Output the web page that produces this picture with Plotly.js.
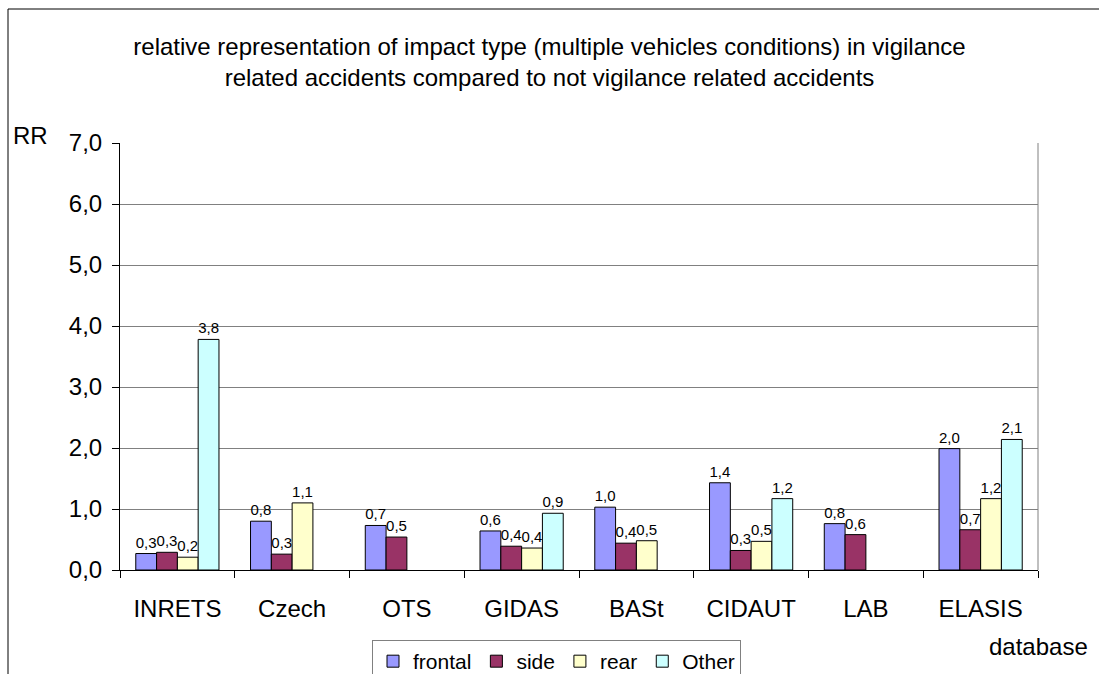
<!DOCTYPE html>
<html>
<head>
<meta charset="utf-8">
<script src="https://cdn.plot.ly/plotly-3.0.1.min.js"></script>
<style>
  body { margin: 0; background: #fff; }
  #chart { width: 1099px; height: 674px; }
</style>
</head>
<body>
<div id="chart"></div>
<script>
// databases on the x axis
const databases = ['INRETS', 'Czech', 'OTS', 'GIDAS', 'BASt', 'CIDAUT', 'LAB', 'ELASIS'];

// relative risk per impact type
const frontal = [0.27, 0.80, 0.73, 0.64, 1.03, 1.43, 0.76, 1.99];
const side    = [0.29, 0.26, 0.54, 0.39, 0.44, 0.32, 0.58, 0.66];
const rear    = [0.21, 1.10, null, 0.36, 0.48, 0.47, null, 1.17];
const other   = [3.78, null, null, 0.93, null, 1.17, null, 2.14];

const yTicks = [0, 1, 2, 3, 4, 5, 6, 7];

const FONT = 'Arial, "Liberation Sans", sans-serif';

function barTrace(name, values, color) {
    return {
        type: 'bar',
        name: name,
        x: databases,
        y: values,
        marker: { color: color, line: { color: '#000000', width: 1 } },
        texttemplate: '%{y:.1f}',
        textposition: 'outside',
        constraintext: 'none',
        cliponaxis: false,
        textfont: { family: FONT, size: 15, color: '#000000' },
        hoverinfo: 'x+y+name'
    };
}

function drawChart() {
    const traces = [
        barTrace('frontal', frontal, '#9999FF'),
        barTrace('side', side, '#993366'),
        barTrace('rear', rear, '#FFFFCC'),
        barTrace('Other', other, '#CCFFFF')
    ];

    const layout = {
        width: 1099,
        height: 674,
        autosize: false,
        separators: ',.',
        font: { family: FONT, color: '#000000' },
        paper_bgcolor: '#ffffff',
        plot_bgcolor: '#ffffff',
        margin: { l: 120, r: 61, t: 143, b: 104, pad: 0 },
        barmode: 'group',
        bargap: 0.275,
        bargroupgap: 0,
        title: {
            text: 'relative representation of impact type (multiple vehicles conditions) in vigilance<br>related accidents compared to not vigilance related accidents',
            font: { family: FONT, size: 24, color: '#000000' },
            x: 0.5, xref: 'container', xanchor: 'center',
            y: 0.919, yref: 'container', yanchor: 'top'
        },
        xaxis: {
            type: 'category',
            showgrid: false,
            showline: true,
            linecolor: '#000000',
            linewidth: 1,
            ticks: 'outside',
            tickson: 'boundaries',
            ticklen: 7,
            tickcolor: '#000000',
            tickfont: { family: FONT, size: 24 },
            ticklabelstandoff: 17
        },
        yaxis: {
            range: [0, 7],
            tickvals: yTicks,
            tickformat: '.1f',
            showgrid: true,
            gridcolor: '#808080',
            gridwidth: 1,
            zeroline: false,
            showline: true,
            linecolor: '#000000',
            linewidth: 1,
            ticks: 'outside',
            ticklen: 7,
            tickcolor: '#000000',
            tickfont: { family: FONT, size: 24 },
            ticklabelstandoff: 5
        },
        legend: {
            orientation: 'h',
            xref: 'container', x: 0.3385, xanchor: 'left',
            yref: 'container', y: 0.0504, yanchor: 'top',
            bordercolor: '#808080',
            borderwidth: 1,
            font: { family: FONT, size: 21 },
            itemwidth: 30,
            traceorder: 'normal'
        },
        annotations: [
            { text: 'RR', xref: 'paper', yref: 'paper', x: -0.098, y: 1.0164,
              xanchor: 'center', yanchor: 'middle', showarrow: false,
              font: { family: FONT, size: 24 } },
            { text: 'database', xref: 'paper', yref: 'paper', x: 1.0005, y: -0.1803,
              xanchor: 'center', yanchor: 'middle', showarrow: false,
              font: { family: FONT, size: 24 } }
        ],
        shapes: [
            // plot area border on the right
            { type: 'line', xref: 'paper', yref: 'paper', x0: 1, x1: 1, y0: 0, y1: 1,
              line: { color: '#808080', width: 1 } },
            // chart area frame
            { type: 'rect', xref: 'paper', yref: 'paper', x0: -0.122, x1: 1.3, y0: -0.6, y1: 1.3138,
              line: { color: '#000000', width: 1 } }
        ]
    };

    Plotly.newPlot('chart', traces, layout, { displayModeBar: false, staticPlot: true });
}

document.addEventListener('DOMContentLoaded', drawChart);
</script>
</body>
</html>
